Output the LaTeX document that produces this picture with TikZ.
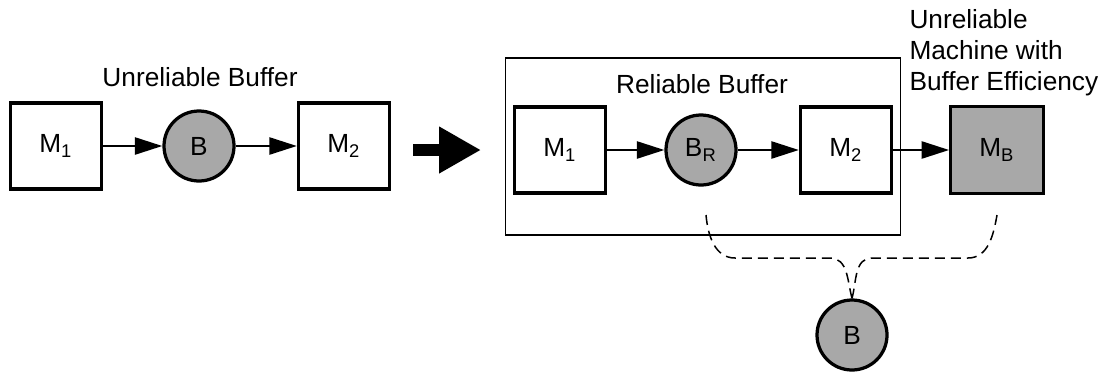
\documentclass[tikz,border=0pt]{standalone}
\usepackage{fontspec}
\setmainfont{Liberation Sans}
\usepackage{tikz}
\usetikzlibrary{arrows.meta, positioning, calc}
\colorlet{stipple}{black!34}
\tikzset{
  mach/.style={rectangle, draw=black, line width=1.3pt, fill=white,
               minimum width=36.4pt, minimum height=34.4pt, inner sep=0pt,
               font=\fontsize{10.5}{12}\selectfont},
  buf/.style={circle, draw=black, line width=1.3pt, fill=stipple,
              minimum size=28pt, inner sep=0pt, font=\fontsize{10.5}{12}\selectfont},
  lbl/.style={font=\fontsize{10.5}{12.4}\selectfont, inner sep=0pt},
  flow/.style={-{Triangle[length=11pt, width=6.8pt]}, line width=1pt},
  link/.style={dashed, dash pattern=on 4pt off 2.4pt, line width=0.6pt}
}
\begin{document}
\begin{tikzpicture}[x=0.4pt, y=-0.4pt]
  \useasboundingbox (0,0) rectangle (1111,373);
  % unreliable buffer line
  \node[mach] (m1L) at (56,146) {M\textsubscript{1}};
  \node[buf] (bL) at (199,146) {B};
  \node[mach] (m2L) at (344,146) {M\textsubscript{2}};
  \node[lbl] (tL) at (200,77) {Unreliable Buffer};
  \draw[flow] (m1L) -- (bL);
  \draw[flow] (bL) -- (m2L);
  % transformation arrow
  \coordinate (t0) at (413,150);
  \coordinate (t1) at (481,150);
  \draw[-{Triangle[length=16.8pt, width=17.6pt]}, line width=4.8pt] (t0) -- (t1);
  % reliable buffer line
  \node[draw, line width=0.6pt, minimum width=158pt, minimum height=70.6pt,
        inner sep=0pt] (frame) at (703,146.5) {};
  \node[lbl] (tR) at (702,84) {Reliable Buffer};
  \node[mach] (m1R) at (560,150) {M\textsubscript{1}};
  \node[buf] (bR) at (701,150) {B\textsubscript{R}};
  \node[mach] (m2R) at (846,150) {M\textsubscript{2}};
  \node[mach, fill=stipple, minimum width=37pt, minimum height=35pt] (mB) at (997,150) {M\textsubscript{B}};
  \node[lbl, anchor=north west, align=left] (tB) at (909,9)
    {Unreliable\\Machine with\\Buffer Efficiency};
  \draw[flow] (m1R) -- (bR);
  \draw[flow] (bR) -- (m2R);
  \draw[flow] (m2R) -- (mB);
  % buffer split
  \node[buf] (bB) at (852,335) {B};
  \coordinate (dl) at (706,215);
  \coordinate (dr) at (997,215);
  \draw[link] (dl) to[out=-85, in=180] (735,258) -- (830,258)
    to[out=0, in=105] (bB.north);
  \draw[link] (dr) to[out=-100, in=0] (968,258) -- (872,258)
    to[out=180, in=75] (bB.north);
\end{tikzpicture}
\end{document}
